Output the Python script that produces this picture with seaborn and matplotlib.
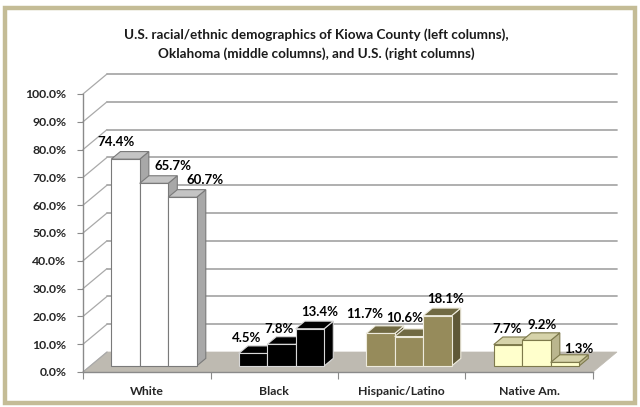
import matplotlib
matplotlib.use("Agg")
import matplotlib.pyplot as plt
from matplotlib.patches import Polygon, Rectangle
import seaborn as sns
import pandas as pd

categories = ["White", "Black", "Hispanic/Latino", "Native Am."]
regions = ["Kiowa County", "Oklahoma", "U.S."]
kiowa = [74.4, 4.5, 11.7, 7.7]
oklahoma = [65.7, 7.8, 10.6, 9.2]
us = [60.7, 13.4, 18.1, 1.3]
y_ticks = [0, 10, 20, 30, 40, 50, 60, 70, 80, 90, 100]
title = ("U.S. racial/ethnic demographics of Kiowa County (left columns),\n"
         "Oklahoma (middle columns), and U.S. (right columns)")

# colours per category: front, top, side, edge
cat_style = {
    "White": ("#FFFFFF", "#C4C4C4", "#A8A8A8", "#7A7A7A"),
    "Black": ("#000000", "#000000", "#000000", "#D8D8D8"),
    "Hispanic/Latino": ("#968B5B", "#716A43", "#5F5837", "#EEEBDD"),
    "Native Am.": ("#FFFFCC", "#D6D3AA", "#BAB68E", "#7E7A4C"),
}
# data-label nudges (pixels) per category, per series: (dx, dy)
label_nudge = [
    [(-9, 17), (19, 17), (23, 17)],
    [(-6, 15.5), (-2, 15.5), (10, 16.5)],
    [(-16, 19), (-4, 18.5), (8, 16.5)],
    [(-1, 15.5), (6, 15.5), (14, 13.5)],
]

sns.set_theme(style="white")
FONT = ["Lato", "DejaVu Sans"]
plt.rcParams["font.family"] = FONT

W, H = 640, 407
fig = plt.figure(figsize=(W / 100, H / 100), dpi=100, facecolor="white")

# 3D oblique geometry (pixels -> data units)
PX_PER_CAT = 127.5
PX_PER_PCT = 2.78
DXF = 24 / PX_PER_CAT        # full floor depth, x data units
DYF = 20 / PX_PER_PCT        # full floor depth, value units
D0 = 0.3                     # depth of bar front faces
BD = 0.38                    # bar depth fraction

front_left, front_bottom = 83, 372
ax = fig.add_axes([front_left / W, (H - front_bottom) / H,
                   4 * PX_PER_CAT / W, 100 * PX_PER_PCT / H])
ax.patch.set_alpha(0)

df = pd.DataFrame({
    "category": categories * 3,
    "region": [r for r in regions for _ in categories],
    "value": kiowa + oklahoma + us,
})
sns.barplot(data=df, x="category", y="value", hue="region", order=categories,
            hue_order=regions, width=0.67, dodge=True, saturation=1,
            palette=["#FFFFFF"] * 3, legend=False, ax=ax, err_kws={"linewidth": 0})
bars = list(ax.patches)

ax.set_xlim(-0.5 - D0 * DXF, 3.5 - D0 * DXF)
ax.set_ylim(-D0 * DYF, 100 - D0 * DYF)


def P(x, v, d):
    return (x + (d - D0) * DXF, v + (d - D0) * DYF)


# floor
floor = Polygon([P(-0.5, 0, 0), P(3.5, 0, 0), P(3.5, 0, 1), P(-0.5, 0, 1)],
                closed=True, facecolor="#BEBAB1", edgecolor="#BEBAB1",
                lw=0.5, zorder=0.5, clip_on=False)
ax.add_patch(floor)
# back-wall gridlines and left-wall diagonals
for v in y_ticks[1:]:
    xs, ys = zip(P(-0.5, v, 1), P(3.5, v, 1))
    ax.plot(xs, ys, color="#A9A9A9", lw=1.3, zorder=0.6, clip_on=False)
for v in y_ticks:
    xs, ys = zip(P(-0.5, v, 0), P(-0.5, v, 1))
    ax.plot(xs, ys, color="#A9A9A9", lw=0.9, zorder=0.6, clip_on=False)

# 3D bars built on seaborn's front faces
bdx, bdy = BD * DXF, BD * DYF
bars_sorted = sorted(bars, key=lambda b: b.get_x())
for k, b in enumerate(bars_sorted):
    x0, w, h = b.get_x(), b.get_width(), b.get_height()
    ci = int(round(x0 + w / 2))
    si = int(round((x0 + w / 2 - ci) / w)) + 1
    front, top, side, edge = cat_style[categories[ci]]
    z = 2 + 2 * k
    side_p = Polygon([(x0 + w, 0), (x0 + w + bdx, bdy), (x0 + w + bdx, h + bdy), (x0 + w, h)],
                     closed=True, facecolor=side, edgecolor=edge, lw=0.8, zorder=z,
                     clip_on=False)
    top_p = Polygon([(x0, h), (x0 + w, h), (x0 + w + bdx, h + bdy), (x0 + bdx, h + bdy)],
                    closed=True, facecolor=top, edgecolor=edge, lw=0.8, zorder=z,
                    clip_on=False)
    ax.add_patch(side_p)
    ax.add_patch(top_p)
    b.set_facecolor(front)
    b.set_edgecolor(edge)
    b.set_linewidth(0.8)
    b.set_zorder(z + 1)
    b.set_clip_on(False)
    ndx, ndy = label_nudge[ci][si]
    ax.annotate(f"{h:.1f}%", (x0 + w / 2, h), xytext=(ndx, ndy),
                textcoords="offset pixels", ha="center", va="center",
                fontsize=9.5, fontweight="bold", color="black", zorder=100,
                annotation_clip=False)

# axes: spines, ticks
for s in ["top", "right"]:
    ax.spines[s].set_visible(False)
for s in ["left", "bottom"]:
    ax.spines[s].set_visible(True)
    ax.spines[s].set_color("#8A8A8A")
    ax.spines[s].set_linewidth(1.0)
ax.set_yticks([v - D0 * DYF for v in y_ticks], [f"{v:.1f}%" for v in y_ticks])
ax.tick_params(axis="y", length=4, width=0.8, color="#8A8A8A", pad=8,
               labelsize=8.8, left=True)
ax.set_xticks([i - D0 * DXF for i in range(len(categories))], categories)
ax.set_xticks([i - 0.5 - D0 * DXF for i in range(len(categories) + 1)], minor=True)
ax.tick_params(axis="x", which="major", length=0, pad=10, labelsize=8.8)
ax.tick_params(axis="x", which="minor", length=5, width=0.8, color="#8A8A8A",
               bottom=True)
for t in ax.get_xticklabels() + ax.get_yticklabels():
    t.set_fontweight("bold")
ax.set_xlabel("")
ax.set_ylabel("")
ax.grid(False)

fig.text(316 / W, 1 - 44 / H, title, ha="center", va="center", fontsize=9.7,
         fontweight="bold", color="#1A1A1A", linespacing=1.65)

fig.add_artist(Rectangle((5 / W, 4 / H), 630 / W, 395 / H, transform=fig.transFigure,
                         fill=False, edgecolor="#C4BC96", lw=3.2, zorder=200))

fig.savefig("out.png", dpi=100, facecolor="white")
